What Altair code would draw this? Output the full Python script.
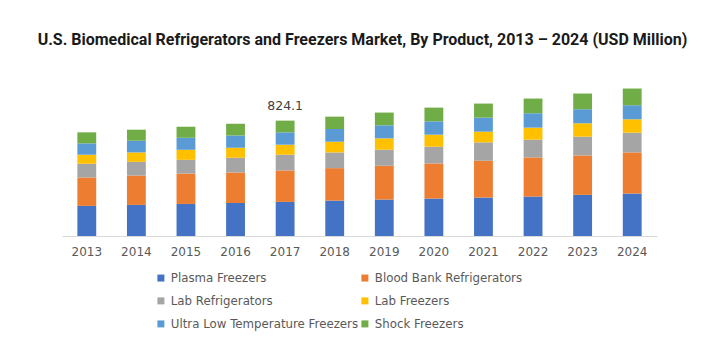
import altair as alt
import pandas as pd

years = ["2013", "2014", "2015", "2016", "2017", "2018", "2019", "2020", "2021", "2022", "2023", "2024"]
series = ["Plasma Freezers", "Blood Bank Refrigerators", "Lab Refrigerators", "Lab Freezers",
          "Ultra Low Temperature Freezers", "Shock Freezers"]
colors = ["#4472C4", "#ED7D31", "#A5A5A5", "#FFC000", "#5B9BD5", "#70AD47"]

plasma = [215, 222, 229, 236.5, 243.6, 253, 260.4, 267.5, 274.7, 281.9, 293.8, 303.4]
blood_bank = [203, 210, 217, 217, 224.5, 231.7, 241.3, 250.8, 262.8, 279.5, 281.9, 293.8]
lab_refrig = [98, 98, 98, 105, 112.3, 112.3, 114.7, 119.4, 131.4, 126.6, 133.8, 140.9]
lab_freezers = [64.5, 66.9, 71.7, 71.7, 71.7, 76.4, 81.2, 86, 76.4, 86, 95.5, 95.5]
ult = [81.2, 83.6, 86, 88.4, 88.4, 90.8, 93.2, 95.5, 100.3, 102.7, 100.3, 100.3]
shock = [78.8, 78.8, 78.8, 83.6, 83.6, 88.4, 90.8, 97.9, 100.3, 105.1, 112.3, 119.4]

label_year = "2017"
label_text = "824.1"

all_vals = [plasma, blood_bank, lab_refrig, lab_freezers, ult, shock]
rows = []
for si, (s, vals) in enumerate(zip(series, all_vals)):
    for y, v in zip(years, vals):
        rows.append({"Year": y, "Product": s, "Value": v, "idx": si})
df = pd.DataFrame(rows)

# legend fills column-major: reorder so rows read pairwise as in the reference
legend_order = [series[0], series[2], series[4], series[1], series[3], series[5]]
legend_colors = [colors[0], colors[2], colors[4], colors[1], colors[3], colors[5]]

FONT = "DejaVu Sans"

x_enc = alt.X("Year:N", sort=years, title=None,
              scale=alt.Scale(paddingInner=0.62, paddingOuter=0.31),
              axis=alt.Axis(labelAngle=0, ticks=False, domainColor="#D9D9D9",
                            labelFont=FONT, labelFontSize=12, labelColor="#595959",
                            labelPadding=10, grid=False))

bars = alt.Chart(df).mark_bar().encode(
    x=x_enc,
    y=alt.Y("sum(Value):Q", scale=alt.Scale(domain=[0, 1200]), axis=None, stack="zero"),
    color=alt.Color("Product:N",
                    scale=alt.Scale(domain=legend_order, range=legend_colors),
                    legend=alt.Legend(orient="none", legendX=93, legendY=204, columns=2,
                                      title=None, symbolType="square", symbolSize=49,
                                      symbolStrokeWidth=0, labelFont=FONT, labelFontSize=11.8,
                                      labelColor="#595959", rowPadding=10, columnPadding=0,
                                      labelOffset=4, padding=0, labelLimit=400)),
    order=alt.Order("idx:Q", sort="ascending"),
)

tot = alt.Chart(df).transform_filter(alt.datum.Year == label_year).transform_aggregate(
    total="sum(Value)", groupby=["Year"]
).transform_calculate(Label=f"'{label_text}'").mark_text(
    font=FONT, fontSize=12.5, color="#404040", dy=-11, baseline="alphabetic"
).encode(
    x=alt.X("Year:N", sort=years),
    y=alt.Y("total:Q", scale=alt.Scale(domain=[0, 1200])),
    text="Label:N",
)

chart = alt.layer(bars, tot).properties(
    width=595, height=168,
    background="white",
    title=alt.TitleParams("U.S. Biomedical Refrigerators and Freezers Market, By Product, 2013 – 2024 (USD Million)",
                          font="Roboto", fontSize=16, fontWeight="bold", color="#1a1a1a",
                          anchor="middle", offset=20, dx=3),
    autosize=alt.AutoSizeParams(type="none"),
    padding={"left": 54, "top": 60, "right": 47, "bottom": 100},
).configure_view(stroke=None, strokeWidth=0)

chart.save("out.html", embed_options={"renderer": "svg", "actions": False})
